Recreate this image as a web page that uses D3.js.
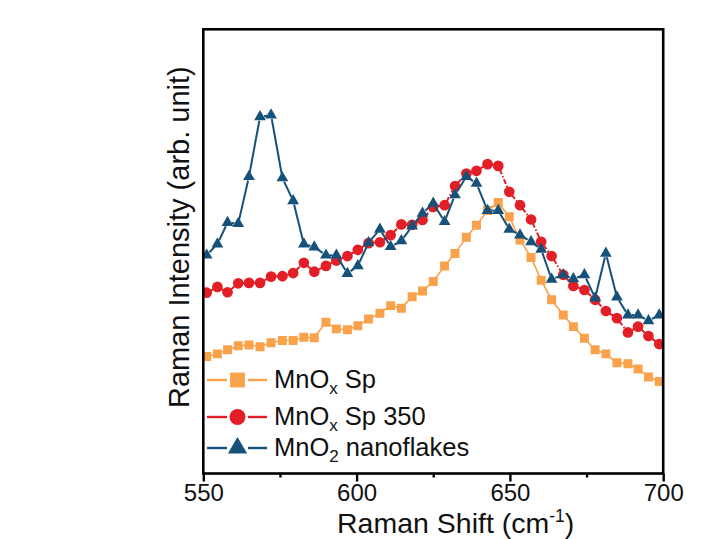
<!DOCTYPE html>
<html>
<head>
<meta charset="utf-8">
<script src="https://cdn.jsdelivr.net/npm/d3@7"></script>
<style>
  body { margin: 0; background: #fff; }
  text { font-family: "Liberation Sans", Arial, sans-serif; fill: #111; }
</style>
</head>
<body>
<svg id="chart" width="707" height="539"></svg>
<script>
// Raman shift (cm-1) of each sample point
const shift = [551.1, 554.6, 557.9, 561.4, 564.9, 568.5, 572.1, 575.8, 579.3, 582.8,
  586.2, 590.0, 593.4, 597.0, 600.4, 603.9, 607.6, 611.1, 614.6, 618.1,
  621.5, 625.0, 628.7, 632.1, 635.8, 639.1, 642.7, 646.2, 649.8, 653.3,
  656.9, 660.2, 663.6, 667.4, 670.7, 674.3, 677.8, 681.3, 684.9, 688.5,
  691.8, 695.2, 698.7];

// intensities, arb. units
const mnoxSp = [26.7, 27.3, 28.2, 29.1, 29.3, 28.9, 29.8, 30.3, 30.3, 31.0,
  30.9, 34.4, 32.9, 32.7, 33.6, 35.1, 36.4, 38.1, 37.5, 40.1,
  41.4, 43.5, 47.0, 49.8, 53.4, 56.1, 59.4, 61.2, 58.0, 52.8,
  48.9, 43.8, 39.4, 36.0, 33.4, 30.8, 28.2, 27.3, 25.3, 25.1,
  23.9, 22.1, 21.1];

const mnoxSp350 = [41.0, 42.3, 41.1, 43.1, 43.2, 43.2, 44.6, 44.7, 45.4, 47.7,
  45.7, 47.0, 48.2, 49.2, 50.6, 52.1, 52.3, 53.9, 56.3, 56.2,
  57.3, 60.2, 60.6, 64.9, 67.7, 68.3, 69.8, 69.4, 63.6, 60.6,
  57.4, 52.4, 49.2, 45.0, 42.5, 41.6, 39.4, 36.9, 35.3, 32.1,
  33.4, 31.3, 29.5];

const mno2Flakes = [49.4, 51.9, 56.7, 56.5, 67.0, 80.4, 80.8, 66.7, 61.6, 51.9,
  51.2, 49.4, 49.4, 45.3, 47.0, 52.2, 55.2, 51.3, 52.6, 55.9,
  58.8, 61.0, 56.9, 62.9, 67.0, 65.5, 59.4, 59.4, 55.2, 53.9,
  52.4, 50.7, 44.0, 45.0, 44.1, 45.0, 39.8, 49.8, 40.0, 36.0,
  36.0, 34.7, 36.0];

const xTicks = [550, 600, 650, 700];
const xMinorTicks = [575, 625, 675];

const series = [
  { name: "MnO", sub: "x", rest: " Sp", values: mnoxSp, color: "#F9A24B",
    symbol: d3.symbolSquare, size: 80, legendSize: 220, dash: null, width: 1.6 },
  { name: "MnO", sub: "x", rest: " Sp 350", values: mnoxSp350, color: "#E21F26",
    symbol: d3.symbolCircle, size: 90, legendSize: 200, dash: "5 2 1.5 2", width: 2 },
  { name: "MnO", sub: "2", rest: " nanoflakes", values: mno2Flakes, color: "#155179",
    symbol: d3.symbolTriangle, size: 60, legendSize: 160, dash: null, width: 2 }
];

const svg = d3.select('#chart');
const plotLeft = 203.3, plotRight = 663.2, plotTop = 29.3, plotBottom = 473.5;

const x = d3.scaleLinear().domain([550, 700]).range([plotLeft, plotRight]);
const y = d3.scaleLinear().domain([0.5, 100]).range([plotBottom, plotTop]);

svg.append('defs').append('clipPath').attr('id', 'plotClip')
  .append('rect')
    .attr('x', plotLeft).attr('y', plotTop)
    .attr('width', plotRight - plotLeft).attr('height', plotBottom - plotTop);

const plot = svg.append('g').attr('clip-path', 'url(#plotClip)');

// data lines, drawn as segments that stop short of the markers
series.forEach(s => {
  const pts = shift.map((v, i) => [x(v), y(s.values[i])]);
  const gap = 4;
  const segs = d3.pairs(pts).map(([a, b]) => {
    const dx = b[0] - a[0], dy = b[1] - a[1];
    const len = Math.hypot(dx, dy);
    if (len <= 2 * gap) return null;
    const ux = dx / len, uy = dy / len;
    return [a[0] + ux * gap, a[1] + uy * gap, b[0] - ux * gap, b[1] - uy * gap];
  }).filter(d => d);

  const g = plot.append('g');
  g.selectAll('line').data(segs).join('line')
    .attr('x1', d => d[0]).attr('y1', d => d[1])
    .attr('x2', d => d[2]).attr('y2', d => d[3])
    .attr('stroke', s.color)
    .attr('stroke-width', s.width)
    .attr('stroke-dasharray', s.dash);

  g.selectAll('path').data(pts).join('path')
    .attr('d', d3.symbol().type(s.symbol).size(s.size))
    .attr('transform', d => 'translate(' + d[0] + ',' + d[1] + ')')
    .attr('fill', s.color);
});

// frame
svg.append('rect')
  .attr('x', plotLeft).attr('y', plotTop)
  .attr('width', plotRight - plotLeft).attr('height', plotBottom - plotTop)
  .attr('fill', 'none')
  .attr('stroke', '#000')
  .attr('stroke-width', 2.6);

// x axis
const xAxis = d3.axisBottom(x).tickValues(xTicks).tickSize(8).tickPadding(3);
const gx = svg.append('g')
  .attr('transform', 'translate(0,' + plotBottom + ')')
  .call(xAxis);
gx.select('.domain').remove();
gx.selectAll('.tick line').attr('stroke', '#000').attr('stroke-width', 2.4);
gx.selectAll('.tick text')
  .style('font-size', '24px')
  .style('font-family', '"Liberation Sans", Arial, sans-serif')
  .attr('fill', '#111')
  .attr('dy', '0.68em');

const gxMinor = svg.append('g')
  .attr('transform', 'translate(0,' + plotBottom + ')')
  .call(d3.axisBottom(x).tickValues(xMinorTicks).tickSize(4).tickFormat(''));
gxMinor.select('.domain').remove();
gxMinor.selectAll('.tick line').attr('stroke', '#000').attr('stroke-width', 2.4);

// axis titles
const xTitle = svg.append('text')
  .attr('x', 337).attr('y', 532.5)
  .style('font-size', '28.5px');
xTitle.append('tspan').text('Raman Shift (cm');
xTitle.append('tspan').attr('dy', -11).style('font-size', '17.5px').text('-1');
xTitle.append('tspan').attr('dy', 11).text(')');

svg.append('text')
  .attr('transform', 'translate(189,408) rotate(-90)')
  .style('font-size', '29px')
  .text('Raman Intensity (arb. unit)');

// legend
const legendRows = [380, 417, 448];
series.forEach((s, i) => {
  const ly = legendRows[i];
  const g = svg.append('g');
  g.append('line')
    .attr('x1', 207).attr('x2', 227).attr('y1', ly).attr('y2', ly)
    .attr('stroke', s.color).attr('stroke-width', 2.4);
  g.append('line')
    .attr('x1', 248).attr('x2', 267).attr('y1', ly).attr('y2', ly)
    .attr('stroke', s.color).attr('stroke-width', 2.4);
  g.append('path')
    .attr('d', d3.symbol().type(s.symbol).size(s.legendSize))
    .attr('transform', 'translate(237.5,' + ly + ')')
    .attr('fill', s.color);
  const t = g.append('text')
    .attr('x', 274).attr('y', ly + 8)
    .style('font-size', '25.5px');
  t.append('tspan').text(s.name);
  t.append('tspan').attr('dy', 6).style('font-size', '17px').text(s.sub);
  t.append('tspan').attr('dy', -6).text(s.rest);
});
</script>
</body>
</html>
